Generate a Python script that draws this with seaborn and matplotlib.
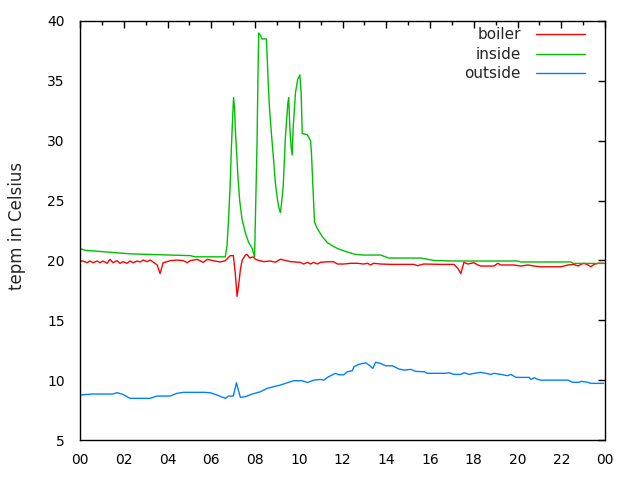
import numpy as np
import pandas as pd
import matplotlib
matplotlib.use("Agg")
import matplotlib.pyplot as plt
import seaborn as sns
from matplotlib.ticker import MultipleLocator, FixedLocator, FixedFormatter

# ---- data (hours of day, temperature in Celsius) ----
boiler_h = [0.0, 0.14, 0.32, 0.46, 0.6, 0.78, 0.92, 1.05, 1.24, 1.37, 1.51, 1.69, 1.83, 1.97,
            2.15, 2.29, 2.43, 2.61, 2.75, 2.89, 3.07, 3.21, 3.34, 3.53, 3.66, 3.8, 3.99, 4.12,
            4.44, 4.72, 4.9, 5.04, 5.36, 5.63, 5.82, 6.09, 6.41, 6.64, 6.87, 7.01, 7.1, 7.18,
            7.25, 7.33, 7.41, 7.56, 7.64, 7.76, 7.91, 8.02, 8.17, 8.4, 8.7, 8.93, 9.16, 9.39,
            9.62, 10.08, 10.22, 10.4, 10.54, 10.67, 10.86, 10.99, 11.31, 11.59, 11.77, 12.05,
            12.37, 12.69, 12.96, 13.15, 13.28, 13.42, 13.74, 14.2, 14.66, 15.25, 15.44, 15.71,
            16.49, 17.09, 17.27, 17.41, 17.55, 17.73, 18.0, 18.19, 18.32, 18.92, 19.1, 19.24,
            19.84, 20.16, 20.48, 20.75, 21.07, 21.99, 22.31, 22.58, 22.77, 22.9, 23.04, 23.22,
            23.36, 23.5, 23.68, 23.96]
boiler_t = [19.95, 19.95, 19.81, 19.95, 19.81, 19.95, 19.81, 19.95, 19.76, 20.09, 19.81, 19.98,
            19.76, 19.9, 19.76, 19.95, 19.81, 19.95, 19.87, 20.03, 19.9, 20.03, 19.87, 19.62,
            18.9, 19.81, 19.9, 19.98, 20.03, 19.98, 19.81, 19.98, 20.09, 19.84, 20.09, 19.98,
            19.87, 19.98, 20.4, 20.4, 18.9, 17.0, 17.9, 19.2, 20.0, 20.45, 20.5, 20.2, 20.3,
            20.1, 20.0, 19.9, 19.95, 19.85, 20.1, 20.0, 19.9, 19.84, 19.7, 19.84, 19.7, 19.84,
            19.7, 19.84, 19.89, 19.89, 19.7, 19.7, 19.76, 19.76, 19.7, 19.76, 19.62, 19.76,
            19.7, 19.67, 19.67, 19.67, 19.56, 19.7, 19.67, 19.67, 19.34, 18.9, 19.84, 19.7,
            19.81, 19.62, 19.53, 19.53, 19.76, 19.62, 19.62, 19.53, 19.62, 19.53, 19.47, 19.47,
            19.62, 19.67, 19.53, 19.67, 19.76, 19.62, 19.47, 19.67, 19.76, 19.76]

inside_h = [0.0, 0.23, 0.92, 1.6, 2.29, 3.21, 4.12, 5.04, 5.27, 6.64, 6.72, 6.79, 6.87, 6.92,
            6.98, 7.02, 7.07, 7.1, 7.18, 7.22, 7.3, 7.41, 7.56, 7.71, 7.87, 7.98, 8.09, 8.14,
            8.17, 8.25, 8.32, 8.52, 8.55, 8.6, 8.66, 8.75, 8.85, 8.93, 9.01, 9.08, 9.16, 9.21,
            9.29, 9.39, 9.5, 9.54, 9.59, 9.65, 9.7, 9.74, 9.85, 9.95, 10.05, 10.11, 10.16,
            10.39, 10.54, 10.58, 10.64, 10.72, 10.84, 11.07, 11.3, 11.6, 11.83, 12.22, 12.6,
            12.96, 13.74, 14.11, 15.58, 16.17, 17.04, 20.02, 20.16, 22.45, 22.54, 23.96]
inside_t = [21.0, 20.85, 20.75, 20.65, 20.55, 20.5, 20.45, 20.4, 20.3, 20.3, 21.2, 23.4, 26.5,
            29.4, 32.0, 33.6, 32.6, 30.9, 28.4, 27.0, 25.0, 23.4, 22.3, 21.5, 21.0, 20.3, 29.5,
            35.9, 39.0, 38.8, 38.5, 38.5, 37.3, 35.0, 32.8, 30.6, 28.4, 26.5, 25.3, 24.5, 24.0,
            24.7, 26.2, 30.3, 33.1, 33.6, 31.2, 29.5, 28.8, 30.9, 34.0, 35.1, 35.5, 34.0, 30.6,
            30.5, 30.0, 29.0, 26.5, 23.2, 22.7, 22.0, 21.5, 21.15, 20.95, 20.7, 20.5, 20.45,
            20.45, 20.2, 20.2, 20.0, 19.95, 19.95, 19.87, 19.87, 19.75, 19.75]

outside_h = [0.0, 0.55, 1.51, 1.68, 1.92, 2.29, 3.21, 3.51, 4.12, 4.43, 4.73, 5.65, 5.95, 6.26,
             6.64, 6.79, 7.01, 7.15, 7.33, 7.56, 7.87, 8.25, 8.55, 8.84, 9.16, 9.47, 9.77,
             10.16, 10.39, 10.69, 10.99, 11.15, 11.36, 11.68, 11.83, 12.06, 12.22, 12.45, 12.52,
             12.75, 13.06, 13.21, 13.39, 13.51, 13.74, 13.97, 14.28, 14.58, 14.81, 15.12, 15.35,
             15.73, 15.88, 16.72, 16.87, 17.1, 17.41, 17.56, 17.79, 18.02, 18.32, 18.55, 18.78,
             18.93, 19.24, 19.55, 19.7, 19.93, 20.54, 20.61, 20.77, 20.92, 21.07, 22.3, 22.52,
             22.83, 22.9, 23.21, 23.36, 23.94]
outside_t = [8.76, 8.84, 8.84, 8.95, 8.84, 8.48, 8.48, 8.67, 8.67, 8.9, 8.98, 8.98, 8.95, 8.76,
             8.48, 8.67, 8.67, 9.78, 8.56, 8.62, 8.84, 9.03, 9.31, 9.45, 9.59, 9.78, 9.95, 9.95,
             9.8, 10.0, 10.06, 10.0, 10.28, 10.57, 10.45, 10.45, 10.7, 10.79, 11.12, 11.32,
             11.45, 11.26, 10.98, 11.49, 11.4, 11.2, 11.2, 10.93, 10.84, 10.9, 10.73, 10.7,
             10.57, 10.57, 10.62, 10.48, 10.48, 10.62, 10.48, 10.57, 10.65, 10.57, 10.48, 10.57,
             10.48, 10.37, 10.48, 10.23, 10.23, 10.06, 10.2, 10.06, 10.0, 10.0, 9.82, 9.82,
             9.9, 9.82, 9.73, 9.73]

series_names = ["boiler", "inside", "outside"]
series_colors = ["#ff0000", "#00c000", "#0080ff"]
x_tick_hours = list(range(0, 25, 2))
x_tick_labels = ["00", "02", "04", "06", "08", "10", "12", "14", "16", "18", "20", "22", "00"]
y_ticks = [5, 10, 15, 20, 25, 30, 35, 40]
y_label = "tepm in Celsius"

df = pd.concat([
    pd.DataFrame({"hour": boiler_h, "temp": boiler_t, "series": "boiler"}),
    pd.DataFrame({"hour": inside_h, "temp": inside_t, "series": "inside"}),
    pd.DataFrame({"hour": outside_h, "temp": outside_t, "series": "outside"}),
], ignore_index=True)

sns.set_style("white")
plt.rcParams["font.family"] = ["DejaVu Sans"]
plt.rcParams["font.size"] = 10

fig = plt.figure(figsize=(6.4, 4.8), dpi=100)
ax = fig.add_axes([80 / 640, 1 - 440 / 480, 525 / 640, 419 / 480])

sns.lineplot(data=df, x="hour", y="temp", hue="series", hue_order=series_names,
             palette=dict(zip(series_names, series_colors)), estimator=None,
             sort=True, linewidth=1.0, ax=ax, legend=False)

ax.set_xlim(0, 24)
ax.set_ylim(5, 40)
ax.xaxis.set_major_locator(FixedLocator(x_tick_hours))
ax.xaxis.set_major_formatter(FixedFormatter(x_tick_labels))
ax.xaxis.set_minor_locator(MultipleLocator(1))
ax.yaxis.set_major_locator(FixedLocator(y_ticks))

ax.tick_params(axis="both", which="both", direction="in", top=True, right=True,
               colors="black", labelsize=10, width=1)
ax.tick_params(axis="both", which="major", length=5)
ax.tick_params(axis="both", which="minor", length=3)
ax.tick_params(axis="x", which="major", pad=9)
ax.tick_params(axis="y", which="major", pad=11)

for sp in ax.spines.values():
    sp.set_visible(True)
    sp.set_color("black")
    sp.set_linewidth(1.0)

ax.set_xlabel("")
ax.set_ylabel(y_label, fontsize=12)
ax.yaxis.set_label_coords(-0.102, 0.51)

handles = [plt.Line2D([], [], color=c, lw=1.0) for c in series_colors]
ax.legend(handles, series_names, loc="upper right", bbox_to_anchor=(0.962, 0.985),
          frameon=False, markerfirst=False, borderpad=0, borderaxespad=0,
          handlelength=3.2, handletextpad=1.0, labelspacing=0.3, fontsize=11)

fig.savefig("out.png", dpi=100, facecolor="white")
